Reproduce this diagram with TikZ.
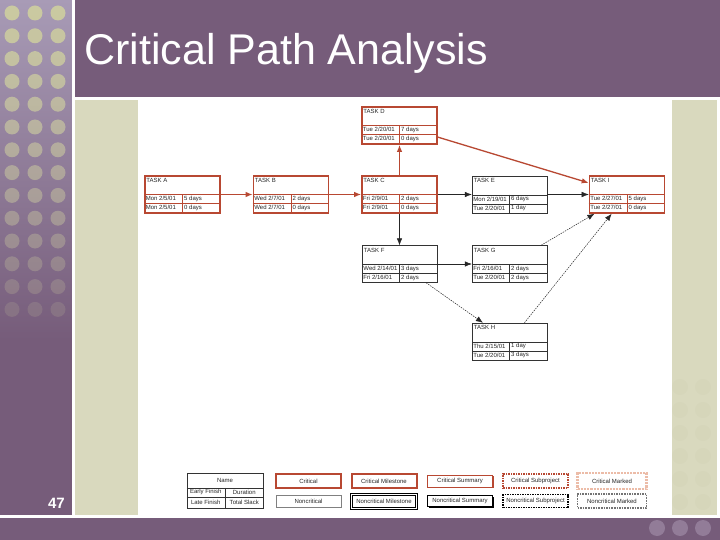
\documentclass[tikz,border=0pt]{standalone}
\usepackage{fontspec}
\setmainfont{Liberation Sans}
\usetikzlibrary{shapes, arrows.meta, positioning, shadows}
\definecolor{critred}{RGB}{184,72,50}
\definecolor{salmon}{RGB}{236,188,168}
\definecolor{slidepurple}{RGB}{118,92,122}
\definecolor{lilac}{RGB}{168,155,182}
\definecolor{khaki}{RGB}{204,204,160}
\definecolor{palegreen}{RGB}{217,217,190}
\definecolor{dimpurple}{RGB}{146,124,152}
\tikzstyle{every node}=[font=\fontsize{6}{7}\selectfont, text=black!85]
\tikzstyle{crit}=[draw=critred, line width=1.6pt, rectangle, fill=white, minimum width=75pt, minimum height=37pt, inner sep=0pt]
\tikzstyle{plain}=[draw=black!80, line width=0.5pt, rectangle, fill=white, minimum width=75pt, minimum height=37pt, inner sep=0pt]
\tikzstyle{critline}=[draw=critred, line width=0.5pt]
\tikzstyle{plainline}=[draw=black!80, line width=0.4pt]
\tikzstyle{cell}=[inner sep=0pt, anchor=west]
\tikzstyle{critarrow}=[->, draw=critred, line width=1.3pt]
\tikzstyle{plainarrow}=[->, draw=black!85, line width=0.5pt]
\tikzstyle{slack}=[plainarrow, dash pattern=on 1.5pt off 1pt]
\tikzstyle{legend}=[rectangle, fill=white, minimum width=65pt, minimum height=14pt, inner sep=0pt]
\newcommand{\taskcells}[7]{%
  \draw[#2] ([yshift=-19pt]#1.north west) -- ([yshift=-19pt]#1.north east);
  \draw[#2] ([yshift=-28pt]#1.north west) -- ([yshift=-28pt]#1.north east);
  \draw[#2] ([yshift=-19pt]#1.north) -- (#1.south);
  \node[inner sep=0pt, anchor=north west] (#1name) at ([xshift=2pt,yshift=-2.5pt]#1.north west) {#3};
  \node[cell] (#1ef) at ([xshift=1.5pt,yshift=-23.5pt]#1.north west) {#4};
  \node[cell] (#1du) at ([xshift=1.5pt,yshift=-23.5pt]#1.north) {#5};
  \node[cell] (#1lf) at ([xshift=1.5pt,yshift=-32.5pt]#1.north west) {#6};
  \node[cell] (#1sl) at ([xshift=1.5pt,yshift=-32.5pt]#1.north) {#7};
}
\begin{document}
\begin{tikzpicture}[x=1pt, y=-1pt, node distance=108.5pt, >={Latex[length=7pt,width=5.5pt]}]
    \useasboundingbox (0,0) rectangle (720,540);
    % slide background
    \fill[slidepurple] (0,0) rectangle (720,540);
    \shade[top color=lilac, bottom color=slidepurple] (0,0) rectangle (72,340);
    \foreach \r in {0,...,13} {
        \pgfmathsetmacro{\op}{0.95-0.06*\r}
        \foreach \c in {12,35,58}
            \fill[khaki, opacity=\op] (\c,13+22.8*\r) circle (7.5pt);
    }
    \fill[white] (72,0) rectangle (75,518);
    \fill[white] (75,97) rectangle (720,518);
    \fill[white] (0,515) rectangle (720,518);
    \fill[palegreen] (75,100) rectangle (138,515);
    \fill[palegreen] (672,100) rectangle (717,515);
    \foreach \r in {0,...,5}
        \foreach \c in {680,703}
            \fill[khaki!80!black, opacity=0.05] (\c,387+23*\r) circle (8pt);
    \foreach \c in {657,680,703}
        \fill[dimpurple] (\c,528) circle (8pt);
    \node[font=\fontsize{43}{50}\selectfont, text=white, anchor=base west, inner sep=0pt] (title) at (84,65) {Critical Path Analysis};
    \node[font=\bfseries\fontsize{15}{18}\selectfont, text=white, anchor=base east, inner sep=0pt] (page) at (65,508) {47};
    % network
    \node[crit] (A) at (182.5,194.5) {};
    \node[crit, right of=A] (B) {};
    \node[crit, right of=B] (C) {};
    \node[crit, above of=C, node distance=69pt] (D) {};
    \node[plain, right of=C, node distance=110pt] (E) {};
    \node[crit, right of=E, node distance=117.5pt] (I) {};
    \node[plain, below of=C, node distance=69.5pt] (F) {};
    \node[plain, right of=F, node distance=110pt] (G) {};
    \node[plain, below of=G, node distance=77.5pt] (H) {};
    \taskcells{A}{critline}{TASK A}{Mon 2/5/01}{5 days}{Mon 2/5/01}{0 days}
    \taskcells{B}{critline}{TASK B}{Wed 2/7/01}{2 days}{Wed 2/7/01}{0 days}
    \taskcells{C}{critline}{TASK C}{Fri 2/9/01}{2 days}{Fri 2/9/01}{0 days}
    \taskcells{D}{critline}{TASK D}{Tue 2/20/01}{7 days}{Tue 2/20/01}{0 days}
    \taskcells{E}{plainline}{TASK E}{Mon 2/19/01}{6 days}{Tue 2/20/01}{1 day}
    \taskcells{I}{critline}{TASK I}{Tue 2/27/01}{5 days}{Tue 2/27/01}{0 days}
    \taskcells{F}{plainline}{TASK F}{Wed 2/14/01}{3 days}{Fri 2/16/01}{2 days}
    \taskcells{G}{plainline}{TASK G}{Fri 2/16/01}{2 days}{Tue 2/20/01}{2 days}
    \taskcells{H}{plainline}{TASK H}{Thu 2/15/01}{1 day}{Tue 2/20/01}{3 days}
    \draw[critarrow] (A) -- (B);
    \draw[critarrow] (B) -- (C);
    \draw[critarrow] (C) -- (D);
    \draw[critarrow] (D) -- (I);
    \draw[plainarrow] (C) -- (E);
    \draw[plainarrow] (E) -- (I);
    \draw[plainarrow] (C) -- (F);
    \draw[plainarrow] (F) -- (G);
    \draw[slack] (F) -- (H);
    \draw[slack] (G) -- (I);
    \draw[slack] (H) -- (I);
    % legend
    \node[plain, minimum width=76pt, minimum height=35pt] (key) at (225,490.5) {};
    \draw[plainline] ([yshift=-15pt]key.north west) -- ([yshift=-15pt]key.north east);
    \draw[plainline] ([yshift=-24pt]key.north west) -- ([yshift=-24pt]key.north east);
    \draw[plainline] ([yshift=-15pt]key.north) -- (key.south);
    \node[inner sep=0pt] (keyname) at ([yshift=-7.5pt]key.north) {Name};
    \node[inner sep=0pt] (keyef) at ([xshift=19pt,yshift=-19.5pt]key.north west) {Early Finish};
    \node[inner sep=0pt] (keydu) at ([xshift=-19pt,yshift=-19.5pt]key.north east) {Duration};
    \node[inner sep=0pt] (keylf) at ([xshift=19pt,yshift=-29.5pt]key.north west) {Late Finish};
    \node[inner sep=0pt] (keysl) at ([xshift=-19pt,yshift=-29.5pt]key.north east) {Total Slack};
    \node[legend, draw=critred, line width=2pt] (lcrit) at (308.5,481) {Critical};
    \node[legend, draw=black!50, line width=0.5pt, minimum height=12pt, below of=lcrit, node distance=20pt] (lnon) {Noncritical};
    \node[legend, draw=critred, line width=2pt, right of=lcrit, node distance=75.5pt] (lcmile) {Critical Milestone};
    \node[legend, draw=black, line width=1.2pt, double=white, double distance=0.6pt, right of=lnon, node distance=75.5pt] (lnmile) {Noncritical Milestone};
    \node[legend, draw=critred, line width=0.6pt, minimum height=12pt, drop shadow={shadow xshift=1.3pt, shadow yshift=-1.3pt, fill=critred, opacity=1}, right of=lcmile, node distance=76pt] (lcsum) {Critical Summary};
    \node[legend, draw=black, line width=0.6pt, minimum height=11pt, drop shadow={shadow xshift=1.3pt, shadow yshift=-1.3pt, fill=black, opacity=1}, right of=lnmile, node distance=76pt] (lnsum) {Noncritical Summary};
    \node[legend, draw=critred, line width=1.5pt, densely dotted, right of=lcsum, node distance=75.5pt] (lcsub) {Critical Subproject};
    \node[legend, draw=black, line width=1.5pt, densely dotted, minimum height=13pt, right of=lnsum, node distance=75.5pt] (lnsub) {Noncritical Subproject};
    \node[legend, draw=salmon, line width=2.2pt, densely dotted, minimum width=69pt, minimum height=16pt, right of=lcsub, node distance=76.5pt] (lcmark) {Critical Marked};
    \node[legend, draw=black!55, line width=1.6pt, densely dotted, minimum width=69pt, right of=lnsub, node distance=76.5pt] (lnmark) {Noncritical Marked};
\end{tikzpicture}
\end{document}
